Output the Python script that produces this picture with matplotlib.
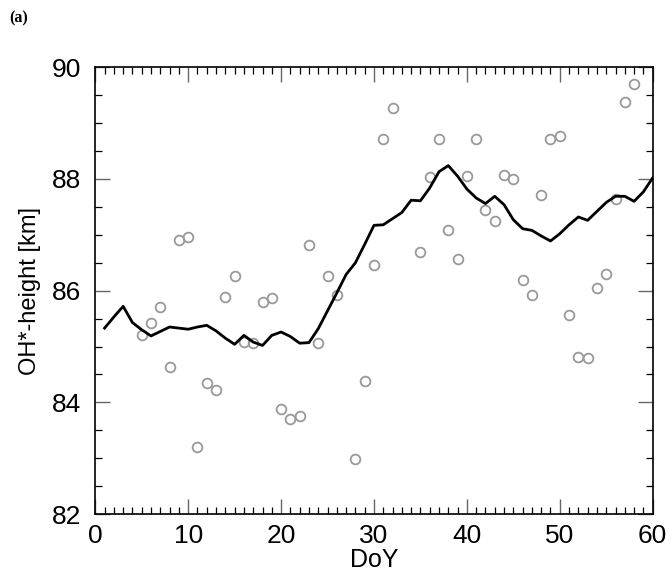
import numpy as np
import matplotlib.pyplot as plt
from matplotlib.ticker import MultipleLocator

# running mean of OH* emission height, one value per day
doy_line = np.arange(1, 61)
height_line = [85.33, 85.53, 85.72, 85.43, 85.30, 85.19, 85.27, 85.35, 85.33, 85.31,
               85.35, 85.38, 85.28, 85.15, 85.04, 85.20, 85.08, 85.02, 85.20, 85.26,
               85.18, 85.06, 85.07, 85.32, 85.64, 85.96, 86.29, 86.50, 86.83, 87.17,
               87.18, 87.29, 87.40, 87.62, 87.61, 87.84, 88.13, 88.24, 88.05, 87.82,
               87.66, 87.56, 87.69, 87.54, 87.27, 87.11, 87.08, 86.98, 86.89, 87.02,
               87.18, 87.32, 87.26, 87.42, 87.58, 87.69, 87.69, 87.60, 87.77, 88.02]

# nightly mean heights
doy_pts = [5, 6, 7, 8, 9, 10, 11, 12, 13, 14, 15, 16, 17, 18, 19, 20, 21, 22, 23, 24,
           25, 26, 28, 29, 30, 31, 32, 35, 36, 37, 38, 39, 40, 41, 42, 43, 44, 45, 46,
           47, 48, 49, 50, 51, 52, 53, 54, 55, 56, 57, 58]
height_pts = [85.21, 85.43, 85.71, 84.63, 86.90, 86.97, 83.20, 84.34, 84.23, 85.89,
              86.27, 85.08, 85.07, 85.80, 85.87, 83.88, 83.70, 83.76, 86.81, 85.07,
              86.27, 85.93, 82.99, 84.39, 86.46, 88.71, 89.27, 86.70, 88.03, 88.72,
              87.09, 86.57, 88.05, 88.71, 87.44, 87.24, 88.08, 88.00, 86.20, 85.93,
              87.72, 88.71, 88.77, 85.57, 84.82, 84.79, 86.05, 86.29, 87.64, 89.37,
              89.70]

plt.rcParams['font.family'] = ['Liberation Sans', 'DejaVu Sans']

fig = plt.figure(figsize=(6.71, 5.77), dpi=100)
ax = fig.add_axes([0.142, 0.109, 0.8307, 0.7744])

ax.plot(doy_pts, height_pts, 'o', mfc='none', mec='#999999', mew=1.3, ms=7, zorder=2)
ax.plot(doy_line, height_line, color='black', lw=2.0, zorder=3)

ax.set_xlim(0, 60)
ax.set_ylim(82, 90)
ax.xaxis.set_major_locator(MultipleLocator(10))
ax.xaxis.set_minor_locator(MultipleLocator(1))
ax.yaxis.set_major_locator(MultipleLocator(2))
ax.yaxis.set_minor_locator(MultipleLocator(0.5))
ax.tick_params(which='both', direction='in', top=True, right=True, labelsize=19)
ax.tick_params(which='major', length=11, width=1.0, color='#666666')
ax.tick_params(which='minor', length=5, width=0.9, color='black')
ax.tick_params(axis='x', which='major', pad=7)
ax.tick_params(axis='y', which='major', pad=10)
for sp in ax.spines.values():
    sp.set_linewidth(1.2)

ax.set_xlabel('DoY', fontsize=18, labelpad=0)
ax.set_ylabel('OH*-height [km]', fontsize=17, labelpad=8)

fig.text(0.014, 0.968, '(a)', fontsize=11.5, fontweight='bold',
         family='Liberation Serif', va='center', ha='left')

fig.savefig('out.png', dpi=100)
